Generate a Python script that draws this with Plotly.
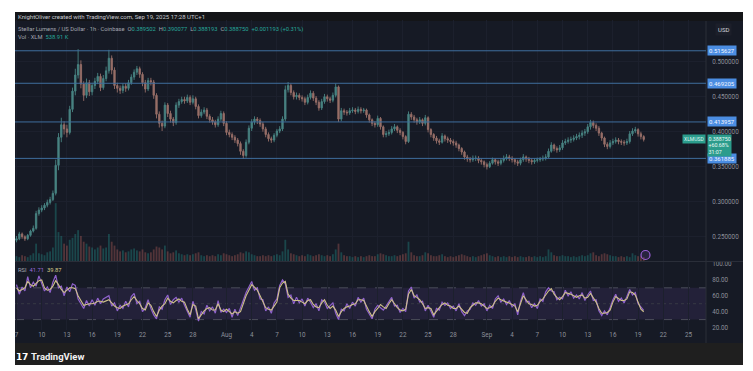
import plotly.graph_objects as go
import pandas as pd

# ---------------- data ----------------
START = "2025-07-07 00:00"   # 8-hour candles
first_open = 0.245
closes = [
    0.247,0.254,0.250,0.247,0.252,0.258,0.262,0.283,0.288,0.291,
    0.295,0.299,0.303,0.312,0.352,0.392,0.410,0.404,0.399,0.432,
    0.458,0.481,0.496,0.468,0.452,0.470,0.457,0.466,0.472,0.479,
    0.463,0.476,0.487,0.505,0.488,0.466,0.462,0.459,0.465,0.462,
    0.470,0.478,0.485,0.490,0.482,0.470,0.461,0.473,0.471,0.452,
    0.425,0.412,0.408,0.438,0.426,0.418,0.413,0.438,0.443,0.446,
    0.444,0.449,0.442,0.447,0.436,0.423,0.428,0.431,0.422,0.417,
    0.414,0.410,0.418,0.426,0.412,0.399,0.396,0.392,0.388,0.383,
    0.372,0.366,0.385,0.405,0.414,0.418,0.416,0.411,0.404,0.396,
    0.390,0.388,0.395,0.401,0.404,0.418,0.460,0.466,0.456,0.450,
    0.452,0.449,0.447,0.442,0.449,0.455,0.448,0.442,0.434,0.443,
    0.450,0.447,0.445,0.452,0.464,0.418,0.430,0.428,0.427,0.430,
    0.431,0.429,0.432,0.430,0.431,0.424,0.417,0.412,0.410,0.419,
    0.407,0.396,0.397,0.399,0.404,0.407,0.402,0.399,0.393,0.386,
    0.425,0.421,0.417,0.414,0.417,0.412,0.420,0.403,0.396,0.391,
    0.387,0.385,0.394,0.390,0.388,0.386,0.384,0.381,0.376,0.371,
    0.364,0.361,0.360,0.362,0.362,0.359,0.357,0.353,0.350,0.355,
    0.360,0.357,0.355,0.359,0.362,0.364,0.362,0.360,0.357,0.355,
    0.360,0.364,0.361,0.359,0.357,0.359,0.360,0.361,0.362,0.364,
    0.372,0.381,0.376,0.374,0.377,0.384,0.386,0.388,0.389,0.391,
    0.393,0.395,0.398,0.400,0.407,0.413,0.409,0.405,0.398,0.391,
    0.382,0.379,0.384,0.386,0.388,0.386,0.385,0.384,0.386,0.397,
    0.401,0.403,0.397,0.393,0.389,
]
highs = [
    .251,.257,.256,.252,.254,.260,.266,.287,.292,.295,
    .298,.303,.307,.316,.360,.398,.420,.415,.410,.437,
    .463,.490,.518,.502,.472,.476,.474,.470,.477,.484,
    .483,.481,.493,.517,.509,.492,.470,.466,.469,.469,
    .474,.482,.489,.494,.493,.485,.474,.477,.477,.474,
    .455,.429,.416,.442,.441,.430,.421,.442,.447,.450,
    .450,.453,.452,.452,.450,.439,.432,.435,.434,.425,
    .421,.417,.422,.430,.429,.415,.403,.399,.395,.391,
    .386,.375,.389,.409,.418,.422,.421,.419,.414,.407,
    .399,.393,.398,.404,.408,.422,.466,.471,.469,.459,
    .456,.455,.452,.450,.453,.459,.458,.451,.445,.447,
    .454,.453,.450,.456,.469,.466,.434,.433,.431,.434,
    .435,.434,.436,.435,.434,.433,.426,.419,.415,.423,
    .421,.409,.401,.403,.408,.411,.409,.405,.401,.395,
    .429,.428,.424,.420,.421,.419,.424,.422,.405,.398,
    .394,.390,.398,.396,.393,.391,.389,.387,.383,.378,
    .373,.367,.364,.366,.366,.365,.362,.359,.356,.358,
    .363,.362,.360,.362,.366,.368,.367,.365,.362,.360,
    .363,.368,.366,.364,.362,.362,.363,.364,.366,.368,
    .376,.385,.383,.379,.381,.388,.390,.392,.393,.395,
    .397,.399,.402,.404,.411,.417,.416,.412,.408,.400,
    .393,.385,.388,.390,.392,.391,.389,.388,.390,.401,
    .405,.407,.405,.400,.395,
]
lows = [
    .242,.245,.247,.244,.245,.250,.256,.260,.280,.285,
    .288,.292,.296,.301,.309,.345,.385,.396,.392,.396,
    .428,.452,.476,.462,.444,.448,.451,.452,.461,.468,
    .458,.460,.472,.483,.482,.461,.456,.454,.455,.457,
    .459,.467,.474,.481,.477,.465,.456,.458,.466,.447,
    .419,.406,.401,.405,.421,.413,.408,.410,.434,.440,
    .440,.441,.438,.439,.432,.419,.420,.425,.418,.413,
    .410,.406,.407,.415,.408,.395,.392,.388,.384,.379,
    .367,.361,.363,.382,.401,.410,.411,.407,.400,.392,
    .386,.384,.385,.392,.398,.401,.415,.456,.452,.446,
    .446,.445,.443,.438,.439,.446,.444,.438,.430,.431,
    .440,.443,.441,.442,.449,.414,.415,.424,.423,.424,
    .427,.425,.426,.426,.427,.420,.413,.408,.406,.407,
    .403,.392,.392,.394,.396,.401,.398,.395,.389,.382,
    .384,.417,.413,.410,.411,.408,.409,.399,.392,.387,
    .383,.381,.383,.386,.384,.382,.380,.377,.372,.367,
    .360,.357,.356,.357,.358,.355,.353,.349,.346,.348,
    .353,.353,.351,.352,.356,.359,.358,.356,.353,.351,
    .352,.357,.357,.355,.353,.354,.356,.357,.358,.359,
    .362,.370,.372,.370,.371,.374,.381,.383,.384,.386,
    .388,.389,.391,.394,.397,.403,.405,.401,.394,.387,
    .378,.375,.376,.381,.383,.382,.381,.380,.381,.383,
    .394,.398,.393,.389,.386,
]
volumes = [
    5,4,6,5,4,6,8,18,8,7,
    6,9,10,14,60,30,26,18,16,22,
    24,28,32,26,20,18,15,14,12,14,
    16,13,14,28,20,16,12,10,11,9,
    10,12,13,11,10,12,9,8,9,12,
    15,14,12,16,10,8,9,11,8,7,
    6,7,6,7,8,9,6,5,6,5,
    6,5,7,6,8,7,6,5,6,7,
    9,8,10,9,7,6,5,5,6,5,
    6,5,6,7,6,10,22,12,8,7,
    6,5,6,5,7,6,5,6,7,6,
    5,6,5,7,12,18,9,6,5,5,
    4,5,4,5,4,5,6,5,5,7,
    8,7,6,5,5,6,5,6,7,8,
    20,9,6,5,5,6,9,8,6,5,
    5,6,7,5,4,5,4,5,6,7,
    6,5,4,5,4,5,6,7,8,6,
    5,4,5,4,5,4,5,4,5,4,
    5,4,4,5,4,5,4,5,4,5,
    12,9,6,5,5,6,5,5,4,5,
    4,5,6,5,6,8,9,6,5,7,
    8,7,6,5,5,4,5,4,5,4,
    8,6,5,5,4,
]
rsi = [
    74,62,71,66,84,70,77,72,85,76,
    66,71,64,77,86,70,72,60,71,65,
    75,73,56,50,44,54,47,55,48,57,
    50,56,58,60,47,51,41,48,44,53,
    46,59,63,50,53,40,45,55,44,36,
    31,46,43,55,61,49,55,58,52,57,
    48,40,33,53,43,28,40,37,48,41,
    46,38,54,39,43,39,44,33,43,35,
    45,55,64,71,78,67,70,56,55,41,
    46,38,51,56,73,80,75,58,61,50,
    58,51,56,47,57,52,45,50,41,55,
    52,44,47,51,38,30,43,41,50,44,
    52,47,58,52,57,43,37,31,43,48,
    45,42,47,53,58,47,48,39,44,40,
    66,71,57,61,52,53,41,48,40,33,
    44,42,52,48,51,44,47,41,50,40,
    35,41,43,51,48,54,47,50,41,48,
    44,56,60,52,56,49,54,46,50,36,
    53,64,52,53,45,50,44,56,53,65,
    70,66,65,55,58,56,67,60,65,57,
    61,56,64,54,61,66,54,55,41,35,
    41,36,45,55,62,53,57,51,59,68,
    61,64,50,46,41.71,
]
rsi_ma = [
    70,66,68,70,78,74,72,76,79,80,
    70,67,68,72,79,74,68,64,67,70,
    70,69,60,53,48,49,50,50,51,53,
    53,52,54,55,51,47,45,44,47,49,
    50,55,59,54,50,44,42,51,48,40,
    34,42,47,50,57,53,51,54,56,53,
    52,43,36,49,47,31,36,41,44,45,
    42,42,50,42,40,43,40,37,40,38,
    40,50,60,67,74,71,67,60,52,45,
    43,42,47,52,70,76,78,62,57,54,
    54,54,52,50,54,55,49,46,45,51,
    55,48,44,47,42,34,40,44,46,47,
    49,50,55,55,54,46,40,34,40,44,
    49,46,44,50,55,50,45,42,41,43,
    62,68,60,58,55,50,44,45,44,36,
    41,45,49,51,48,47,44,44,47,43,
    39,38,45,48,51,51,50,47,44,45,
    47,53,57,55,53,52,51,49,47,40,
    50,60,55,50,49,47,48,53,56,61,
    66,69,62,58,55,59,64,63,62,60,
    58,60,61,57,58,63,57,52,44,38,
    38,39,42,52,59,56,54,54,56,65,
    64,61,53,43,39.87,
]
tick_dates = ["2025-07-07","2025-07-10","2025-07-13","2025-07-16","2025-07-19",
              "2025-07-22","2025-07-25","2025-07-28","2025-08-01","2025-08-04",
              "2025-08-07","2025-08-10","2025-08-13","2025-08-16","2025-08-19",
              "2025-08-22","2025-08-25","2025-08-28","2025-09-01","2025-09-04",
              "2025-09-07","2025-09-10","2025-09-13","2025-09-16","2025-09-19",
              "2025-09-22","2025-09-25"]
tick_labels = ["7","10","13","16","19","22","25","28","Aug","4","7","10","13",
               "16","19","22","25","28","Sep","4","7","10","13","16","19","22","25"]
price_ticks = [0.25, 0.30, 0.35, 0.40, 0.45, 0.50]
level_lines = [0.515627, 0.469205, 0.413957, 0.361885]
rsi_ticks = [20, 40, 60, 80, 100]
x_range = ["2025-07-06 19:43", "2025-09-27 02:00"]
price_range = [0.2153, 0.5596]
rsi_range = [16.9, 102.5]

# ---------------- styling ----------------
W, H = 753, 371
ML, MR, MT, MB = 15, 47, 20, 41
PW, PH = W - ML - MR, H - MT - MB

def px(x):
    return (x - ML) / PW

def py(y):
    return (H - MB - y) / PH

BG = "#161a25"
GRID = "#1c202d"
TXT = "#8d909a"
INC = "#4f928f"
DEC = "#a97a72"
FONT = "Roboto"

n = len(closes)
times = pd.date_range(START, periods=n, freq="8h")
opens = [first_open] + closes[:-1]
vol_colors = ["rgba(38,166,154,0.32)" if c >= o else "rgba(210,110,100,0.32)"
              for o, c in zip(opens, closes)]

fig = go.Figure()
fig.add_trace(go.Bar(x=times, y=volumes, marker=dict(color=vol_colors, line=dict(width=0)),
                     xaxis="x", yaxis="y3", showlegend=False, hoverinfo="skip"))
fig.add_trace(go.Candlestick(x=times, open=opens, high=highs, low=lows, close=closes,
                             increasing=dict(line=dict(color=INC, width=0.9), fillcolor=INC),
                             decreasing=dict(line=dict(color=DEC, width=0.9), fillcolor=DEC),
                             whiskerwidth=0, opacity=0.88, xaxis="x", yaxis="y", showlegend=False))
fig.add_trace(go.Scatter(x=times, y=rsi, mode="lines", line=dict(color="#8f62cc", width=1.2),
                         xaxis="x2", yaxis="y2", showlegend=False))
fig.add_trace(go.Scatter(x=times, y=rsi_ma, mode="lines", line=dict(color="#cfc18a", width=1.1),
                         xaxis="x2", yaxis="y2", showlegend=False))

price_dom = [py(261), 1]
rsi_dom = [0, py(262)]

shapes = [
    dict(type="rect", xref="paper", yref="paper", x0=0, x1=px(743), y0=py(343), y1=py(12),
         fillcolor=BG, line=dict(width=0), layer="below"),
    dict(type="rect", xref="paper", yref="paper", x0=0, x1=px(743), y0=py(21), y1=py(12),
         fillcolor="#141518", line=dict(width=0), layer="below"),
    dict(type="rect", xref="paper", yref="paper", x0=0, x1=px(743), y0=py(365), y1=py(343),
         fillcolor="#1f1f1f", line=dict(width=0), layer="below"),
    dict(type="rect", xref="paper", yref="y2", x0=0, x1=1, y0=30, y1=70,
         fillcolor="rgba(126,87,194,0.13)", line=dict(width=0), layer="below"),
    dict(type="line", xref="paper", yref="y2", x0=0, x1=1, y0=70, y1=70,
         line=dict(color="#4a4d5a", width=1, dash="dash"), layer="below"),
    dict(type="line", xref="paper", yref="y2", x0=0, x1=1, y0=30, y1=30,
         line=dict(color="#4a4d5a", width=1, dash="dash"), layer="below"),
    dict(type="line", xref="paper", yref="y2", x0=0, x1=1, y0=50, y1=50,
         line=dict(color="#363945", width=1, dash="dot"), layer="below"),
    dict(type="line", xref="paper", yref="paper", x0=0, x1=px(743), y0=py(261.5), y1=py(261.5),
         line=dict(color="#2a2e39", width=1)),
    dict(type="line", xref="paper", yref="paper", x0=1, x1=1, y0=py(343), y1=py(21),
         line=dict(color="#2a2e39", width=1)),
    dict(type="circle", xref="paper", yref="paper", x0=px(641), x1=px(650), y0=py(259.5), y1=py(250.5),
         line=dict(color="#9a5fd6", width=1.2), fillcolor="rgba(154,95,214,0.15)"),
]
for lv in level_lines:
    shapes.append(dict(type="line", xref="paper", yref="y", x0=0, x1=1, y0=lv, y1=lv,
                       line=dict(color="#3f6e9e", width=1)))

ann = []
def txt(x, y, text, size=6, color=TXT, xanchor="left", yanchor="middle", **kw):
    ann.append(dict(x=x, y=y, xref="paper", yref="paper", text=text, showarrow=False,
                    xanchor=xanchor, yanchor=yanchor,
                    font=dict(size=size, color=color, family=FONT), **kw))

G = "#26a69a"
txt(px(16), py(16.5), "KnightOliver created with TradingView.com, Sep 19, 2025 17:28 UTC+1",
    size=6, color="#c8cad0")
txt(px(16), py(29), "Stellar Lumens / US Dollar · 1h · Coinbase  "
    f"O<span style='color:{G}'>0.389502</span>  H<span style='color:{G}'>0.390077</span>  "
    f"L<span style='color:{G}'>0.388193</span>  C<span style='color:{G}'>0.388750</span>  "
    f"<span style='color:{G}'>+0.001193 (+0.31%)</span>", size=5.8, color="#a3a6af")
txt(px(16), py(37.5), f"Vol · XLM  <span style='color:{G}'>538.91 K</span>", size=5.8, color="#a3a6af")
txt(px(16), py(270), "RSI  <span style='color:#9b6cd9'>41.71</span>  <span style='color:#d9cb8c'>39.87</span>",
    size=5.8, color="#a3a6af")
txt(px(724), py(30), "USD", size=6, color="#d1d4dc", xanchor="center",
    bgcolor="#1c1f2a", borderpad=2)
for lv in level_lines:
    ann.append(dict(x=px(707), y=lv, xref="paper", yref="y", text=f"{lv:.6f}", showarrow=False,
                    xanchor="left", yanchor="middle", bgcolor="#4b8de2", borderpad=1,
                    font=dict(size=6, color="#f0f4ff", family=FONT)))
txt(px(707), py(134), "0.388750<br>+60.68%<br>31:07", size=5.3, color="#eafaf6",
    yanchor="top", bgcolor="#2b9c8c", borderpad=0.5, align="left")
txt(px(706), py(138.5), "XLMUSD", size=5, color="#dff5f0", xanchor="right",
    bgcolor="#2b9c8c", borderpad=1)
txt(px(14), py(356.5), "<b>𝟭𝟳</b>", size=9, color="#ffffff")
txt(px(29), py(356.5), "<b>TradingView</b>", size=9.5, color="#f2f2f2")

axfont = dict(size=6.3, color=TXT, family=FONT)
fig.update_layout(
    width=W, height=H, margin=dict(l=ML, r=MR, t=MT, b=MB),
    paper_bgcolor="white", plot_bgcolor=BG, showlegend=False, bargap=0.35,
    xaxis=dict(domain=[0, 1], anchor="y", type="date", range=x_range,
               rangeslider=dict(visible=False), tickvals=tick_dates, showticklabels=False,
               showgrid=True, gridcolor=GRID, gridwidth=1, zeroline=False, ticks=""),
    xaxis2=dict(domain=[0, 1], anchor="y2", type="date", range=x_range, matches="x",
                tickvals=tick_dates, ticktext=tick_labels, tickfont=axfont,
                showgrid=True, gridcolor=GRID, gridwidth=1, zeroline=False, ticks=""),
    yaxis=dict(domain=price_dom, anchor="x", side="right", range=price_range,
               tickvals=price_ticks, ticktext=[f"{v:.6f}" for v in price_ticks],
               tickfont=axfont, showgrid=True, gridcolor=GRID, zeroline=False,
               ticks="outside", ticklen=4, tickcolor="rgba(0,0,0,0)"),
    yaxis3=dict(domain=price_dom, anchor="x", overlaying="y", range=[0, 250], visible=False),
    yaxis2=dict(domain=rsi_dom, anchor="x2", side="right", range=rsi_range,
                tickvals=rsi_ticks, ticktext=[f"{v:.2f}" for v in rsi_ticks],
                tickfont=axfont, showgrid=False, zeroline=False,
                ticks="outside", ticklen=4, tickcolor="rgba(0,0,0,0)"),
    shapes=shapes, annotations=ann,
)
fig.write_html("out.html", config={"displayModeBar": False},
               post_script="document.body.style.margin='0';")
